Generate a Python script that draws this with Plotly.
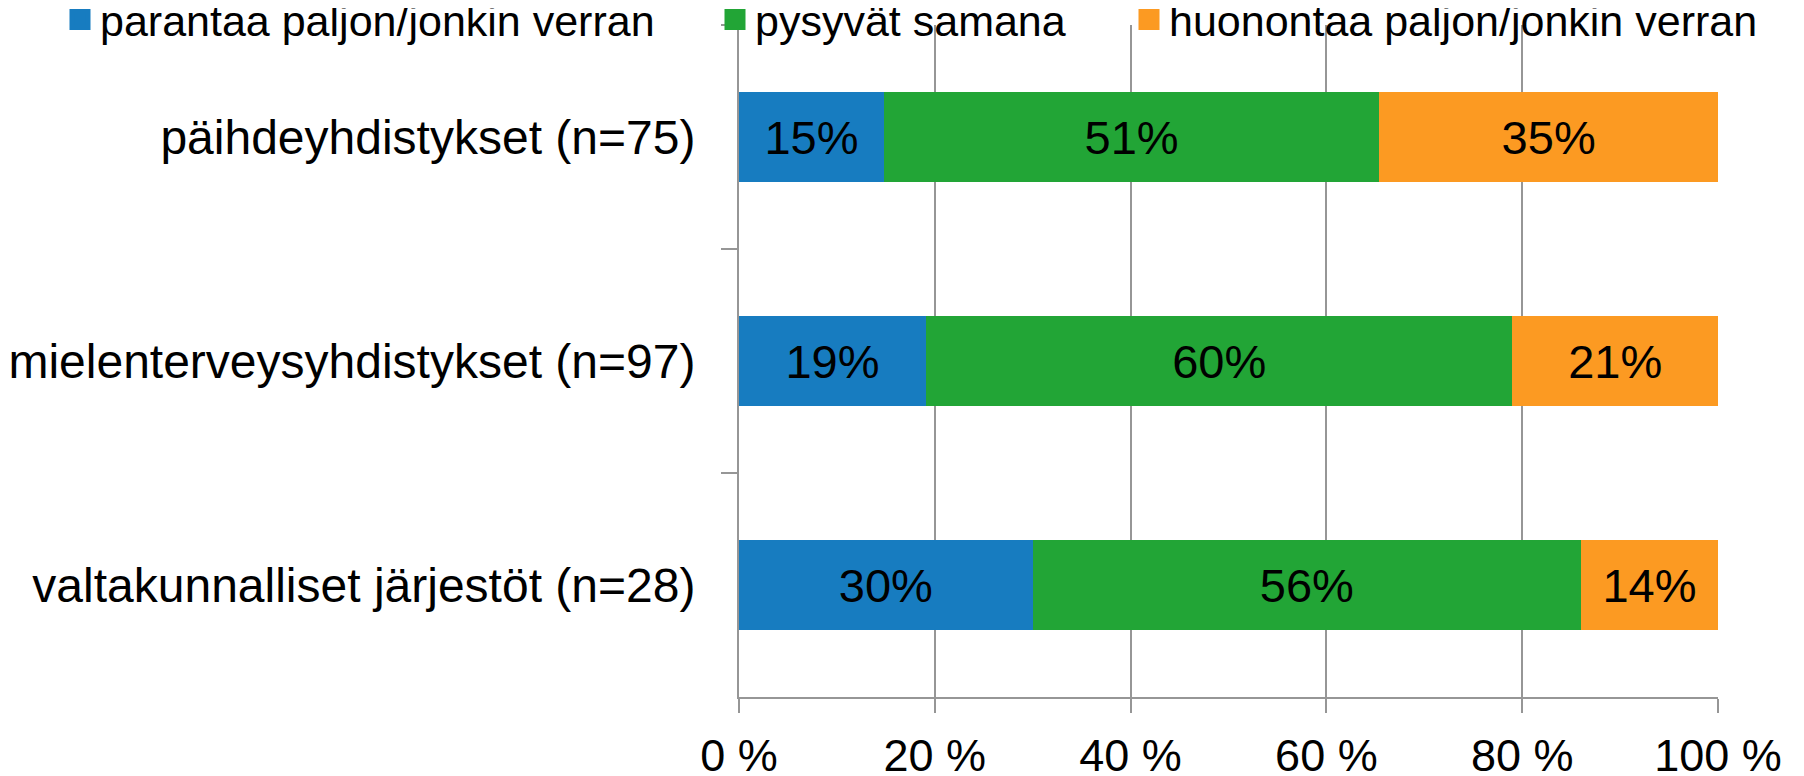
import plotly.graph_objects as go

categories = ["päihdeyhdistykset (n=75)",
              "mielenterveysyhdistykset (n=97)",
              "valtakunnalliset järjestöt (n=28)"]
series_names = ["parantaa paljon/jonkin verran", "pysyvät samana",
                "huonontaa paljon/jonkin verran"]
improve = [14.8, 19.1, 30.0]
same = [50.6, 59.9, 56.0]
worsen = [34.6, 21.0, 14.0]
tick_vals = [0, 20, 40, 60, 80, 100]
tick_text = ["0 %", "20 %", "40 %", "60 %", "80 %", "100 %"]

colors = ["#177cc0", "#22a536", "#fc9a22"]
FONT = "Liberation Sans, Arial, sans-serif"

# the page body adds an 8px margin before the figure
OFF = 8
W, H = 1804 - OFF, 776 - OFF
# plot area in page pixels: x 739..1718, y 25..697
ML = 739 - OFF
MR = W - (1718 - OFF)
MT = 25 - OFF
MB = H - (697 - OFF)
pw = W - ML - MR
ph = H - MT - MB

def page_x(px):
    return (px - OFF - ML) / pw

def page_y(py):
    return (H - MB - (py - OFF)) / ph

fig = go.Figure()
legend_ids = ["legend", "legend2", "legend3"]
for name, vals, col in zip(series_names, [improve, same, worsen], colors):
    fig.add_trace(go.Bar(
        y=categories, x=vals, name=name, orientation="h",
        marker=dict(color=col, line=dict(width=0)),
        texttemplate="%{x:.0f}%", textposition="inside",
        insidetextanchor="middle", textangle=0,
        textfont=dict(family=FONT, size=47, color="black"),
        showlegend=False, hoverinfo="x+name",
    ))

# legend-only entries (larger square symbols), placed on hidden axes out of range
for name, col, lg in zip(series_names, colors, legend_ids):
    fig.add_trace(go.Scatter(
        x=[1], y=[-10], name=name, mode="markers",
        xaxis="x2", yaxis="y2",
        marker=dict(color=col, symbol="square", size=16,
                    line=dict(width=5, color=col)),
        legend=lg, hoverinfo="skip", showlegend=True,
    ))

legend_text_starts = [94, 749, 1163]
leg_common = dict(orientation="h", yanchor="middle", xanchor="left",
                  font=dict(family=FONT, size=43, color="black"),
                  bgcolor="rgba(0,0,0,0)", borderwidth=0)
legends = {}
for lg, tx in zip(legend_ids, legend_text_starts):
    legends[lg] = dict(x=page_x(tx - 42 + OFF), y=page_y(19.5), **leg_common)

fig.update_layout(
    width=W, height=H,
    margin=dict(l=ML, r=MR, t=MT, b=MB, pad=0, autoexpand=False),
    paper_bgcolor="white", plot_bgcolor="white",
    barmode="stack", bargap=0.6,
    font=dict(family=FONT, color="black"),
    xaxis=dict(range=[0, 100], tickvals=tick_vals, ticktext=tick_text,
               showgrid=True, gridcolor="#969696", gridwidth=2,
               showline=True, linecolor="#969696", linewidth=2,
               ticks="outside", ticklen=14, tickcolor="#969696", tickwidth=2,
               ticklabelstandoff=4,
               tickfont=dict(family=FONT, size=45, color="black"),
               zeroline=False, fixedrange=True),
    yaxis=dict(autorange="reversed", showgrid=False,
               showline=True, linecolor="#969696", linewidth=2,
               ticks="outside", ticklen=16, tickcolor="#969696", tickwidth=2,
               tickson="boundaries", ticklabelstandoff=32,
               tickfont=dict(family=FONT, size=48, color="black"),
               fixedrange=True),
    xaxis2=dict(overlaying="x", visible=False, range=[0, 100], fixedrange=True),
    yaxis2=dict(overlaying="y", visible=False, range=[0, 1], fixedrange=True),
    showlegend=True,
    **legends,
)

fig.write_html("out.html")
